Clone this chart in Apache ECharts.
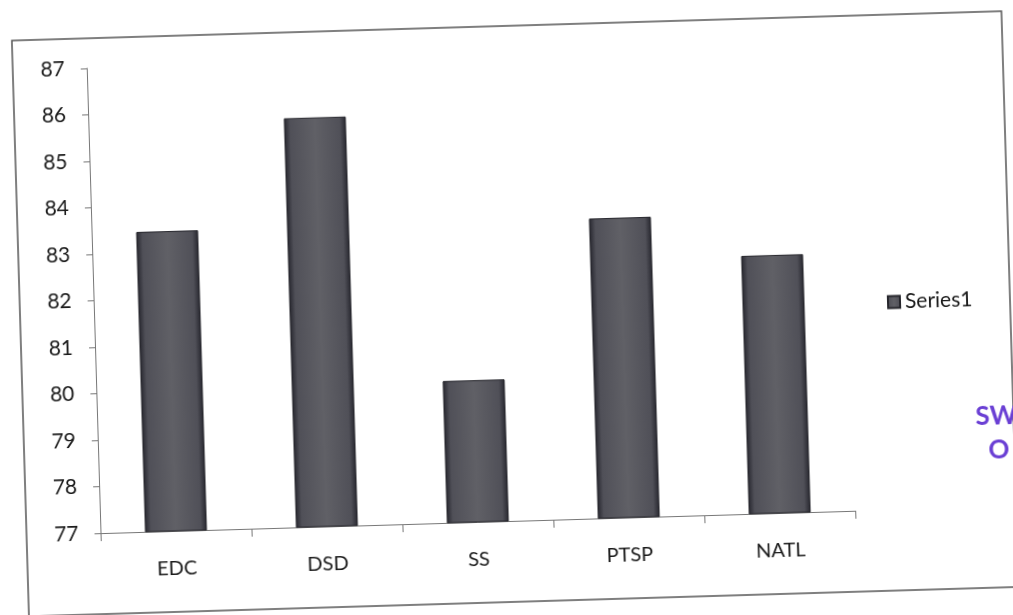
<!DOCTYPE html>
<html>
<head>
<meta charset="utf-8">
<script src="https://cdn.jsdelivr.net/npm/echarts@6/dist/echarts.min.js"></script>
<style>
  html, body { margin: 0; padding: 0; background: #fff; overflow: hidden; }
  #chart {
    width: 1013px;
    height: 615px;
    /* the reference is a slightly tilted scan */
    transform: rotate(-1.7deg);
    transform-origin: 50% 50%;
  }
</style>
</head>
<body>
<div id="chart"></div>
<script>
const categories = ['EDC', 'DSD', 'SS', 'PTSP', 'NATL']
const series1 = [83.45, 85.8, 80.05, 83.45, 82.55]
const yTicks = [77, 78, 79, 80, 81, 82, 83, 84, 85, 86, 87]

const chart = echarts.init(document.getElementById('chart'))

const barFill = new echarts.graphic.LinearGradient(0, 0, 1, 0, [
  { offset: 0, color: '#26262e' },
  { offset: 0.1, color: '#505058' },
  { offset: 0.5, color: '#606066' },
  { offset: 0.9, color: '#505058' },
  { offset: 1, color: '#26262e' },
])

const option = {
  animation: false,
  textStyle: { fontFamily: 'Lato' },
  grid: {
    left: 94,
    right: 164,
    top: 56,
    bottom: 94,
  },
  legend: {
    data: ['Series1'],
    orient: 'vertical',
    left: 882,
    top: 298,
    icon: 'rect',
    itemWidth: 12,
    itemHeight: 12,
    itemGap: 6,
    textStyle: { fontSize: 21, color: '#1a1a1a', fontFamily: 'Lato' },
  },
  xAxis: {
    type: 'category',
    data: categories,
    axisLine: { lineStyle: { color: '#777', width: 1 } },
    axisTick: { show: true, length: 8, lineStyle: { color: '#777' } },
    axisLabel: { color: '#1a1a1a', fontSize: 20, margin: 28 },
  },
  yAxis: {
    type: 'value',
    min: yTicks[0],
    max: yTicks[yTicks.length - 1],
    interval: 1,
    splitLine: { show: false },
    axisLine: { show: true, lineStyle: { color: '#777', width: 1 } },
    axisTick: { show: true, length: 6, lineStyle: { color: '#777' } },
    axisLabel: { color: '#1a1a1a', fontSize: 21, margin: 22 },
  },
  graphic: [
    {
      type: 'rect',
      shape: { x: 20, y: 26, width: 990, height: 576 },
      style: { fill: 'none', stroke: '#555', lineWidth: 1.5 },
      silent: true,
      z: -1,
    },
    {
      type: 'text',
      left: 972,
      top: 418,
      style: { text: 'SW', fill: '#6a3fd4', font: 'bold 26px Lato' },
    },
    {
      type: 'text',
      left: 984,
      top: 452,
      style: { text: 'O', fill: '#6a3fd4', font: 'bold 26px Lato' },
    },
  ],
  series: [
    {
      name: 'Series1',
      type: 'bar',
      barWidth: 62,
      data: series1,
      itemStyle: {
        color: barFill,
        borderColor: '#26262c',
        borderWidth: 1,
      },
    },
  ],
}

chart.setOption(option)
</script>
</body>
</html>
